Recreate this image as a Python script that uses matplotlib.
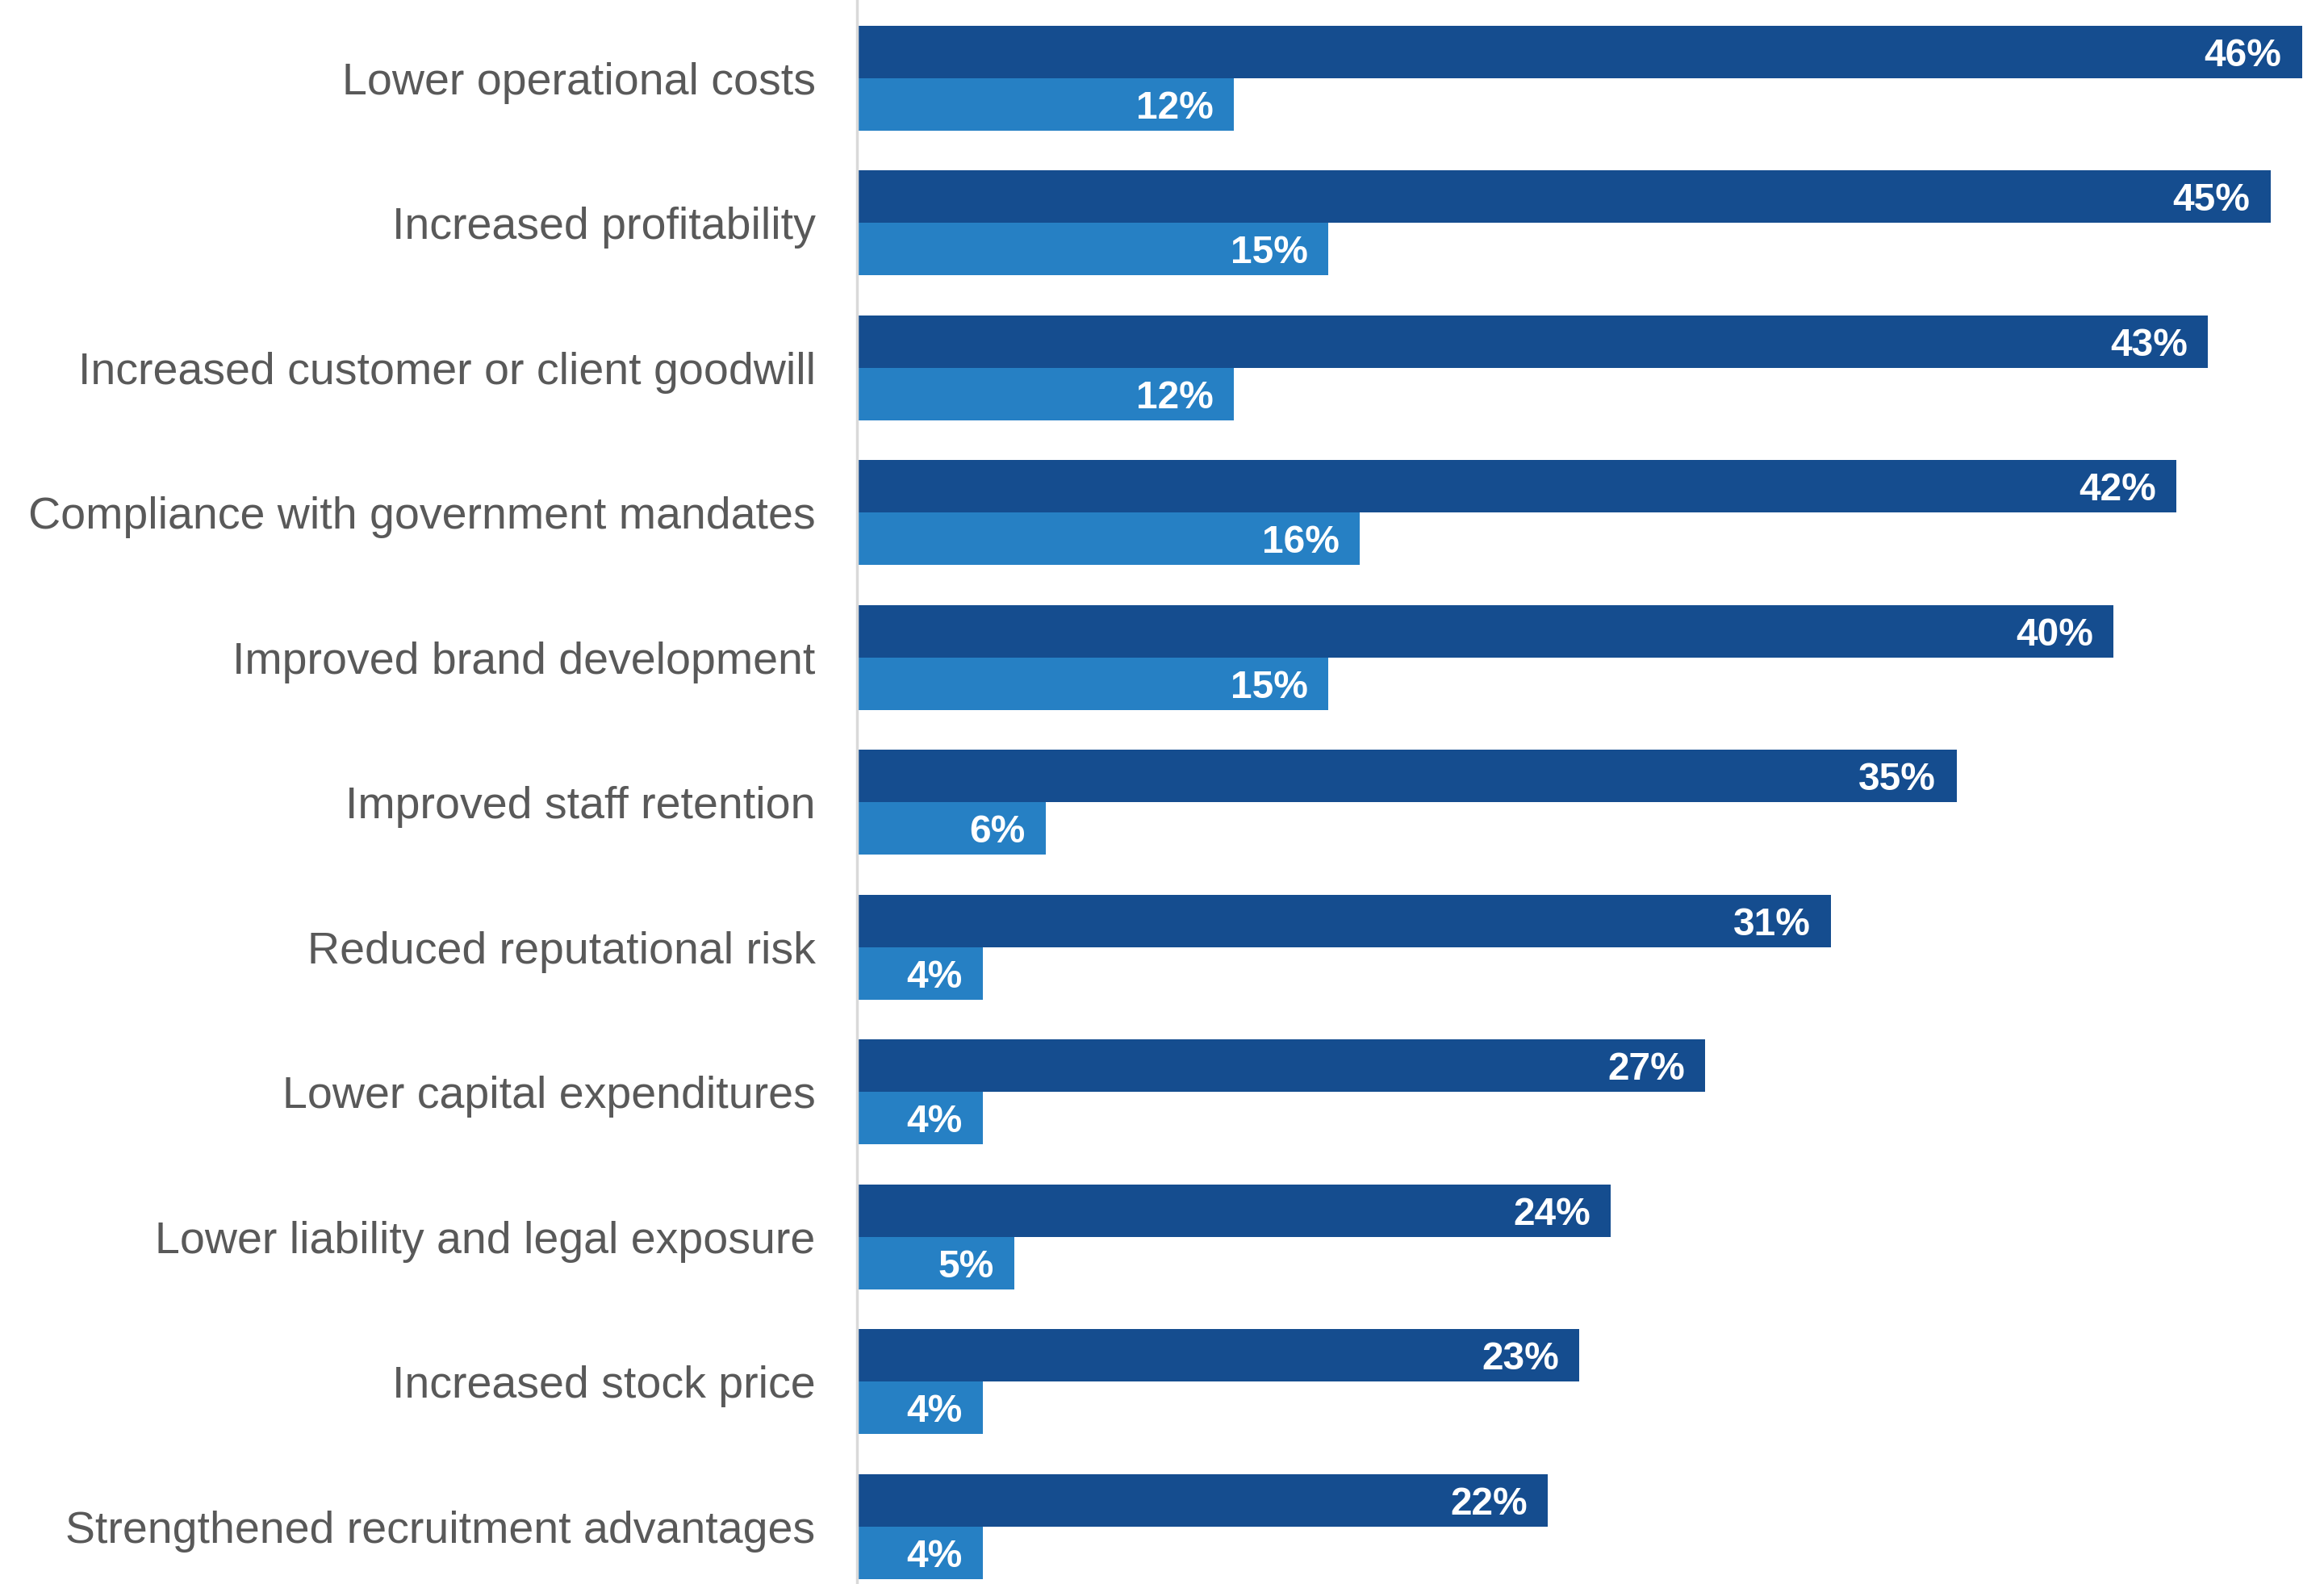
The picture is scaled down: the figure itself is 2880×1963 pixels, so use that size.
import matplotlib
matplotlib.use("Agg")
import matplotlib.pyplot as plt
import numpy as np

categories = [
    "Lower operational costs",
    "Increased profitability",
    "Increased customer or client goodwill",
    "Compliance with government mandates",
    "Improved brand development",
    "Improved staff retention",
    "Reduced reputational risk",
    "Lower capital expenditures",
    "Lower liability and legal exposure",
    "Increased stock price",
    "Strengthened recruitment advantages",
]
series_dark = [46, 45, 43, 42, 40, 35, 31, 27, 24, 23, 22]
series_light = [12, 15, 12, 16, 15, 6, 4, 4, 5, 4, 4]

DARK = "#154d8f"
LIGHT = "#2680c4"
TEXT = "#595959"

plt.rcParams["font.family"] = ["Liberation Sans", "DejaVu Sans"]

W, H, DPI = 2880, 1963, 100
fig = plt.figure(figsize=(W / DPI, H / DPI), dpi=DPI)
left = 1062 / W
ax = fig.add_axes([left, 0, 1 - left, 1])

y = np.arange(len(categories))
h = 0.362
ax.barh(y - h / 2, series_dark, height=h, color=DARK, linewidth=0)
ax.barh(y + h / 2, series_light, height=h, color=LIGHT, linewidth=0)

for yi, v in zip(y, series_dark):
    ax.text(v - 0.65, yi - h / 2, f"{v}%", ha="right", va="center_baseline",
            color="white", fontsize=34.5, fontweight="bold")
for yi, v in zip(y, series_light):
    ax.text(v - 0.65, yi + h / 2, f"{v}%", ha="right", va="center_baseline",
            color="white", fontsize=34.5, fontweight="bold")

ax.set_xlim(0, 46.7)
ax.set_ylim(10.396, -0.540)
ax.set_yticks(y)
ax.set_yticklabels(categories, fontsize=40, color=TEXT)
ax.tick_params(axis="y", length=0, pad=37)
ax.set_xticks([])
for s in ["top", "right", "bottom"]:
    ax.spines[s].set_visible(False)
ax.spines["left"].set_color("#d9d9d9")
ax.spines["left"].set_linewidth(2.5)

fig.savefig("out.png", dpi=DPI, facecolor="white")
